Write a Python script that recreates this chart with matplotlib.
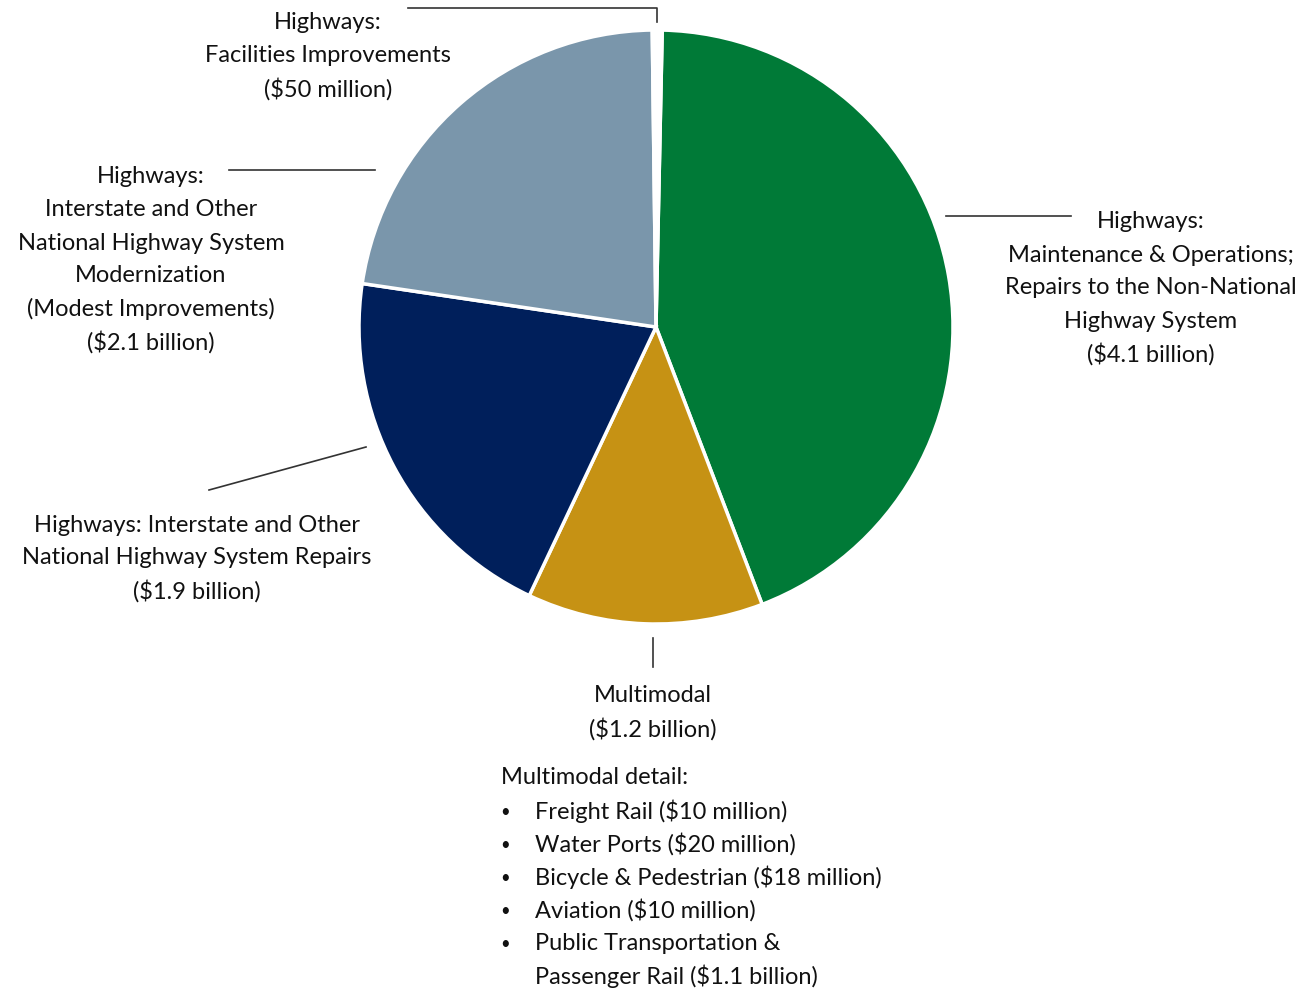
import matplotlib.pyplot as plt

# slice values in $ billions, clockwise from top
labels = ['Maintenance & Operations', 'Multimodal', 'NHS Repairs',
          'NHS Modernization', 'Facilities Improvements']
values = [4.1, 1.2, 1.9, 2.1, 0.05]
colors = ['#007a37', '#c69214', '#001f5b', '#7a96ab', '#ffffff']

detail_items = ['Freight Rail ($10 million)', 'Water Ports ($20 million)',
                'Bicycle & Pedestrian ($18 million)', 'Aviation ($10 million)',
                'Public Transportation &']
detail_last = 'Passenger Rail ($1.1 billion)'

W, H = 1303, 988
plt.rcParams['font.family'] = ['Lato', 'DejaVu Sans']

fig = plt.figure(figsize=(W / 100, H / 100), dpi=100)
ax = fig.add_axes([0, 0, 1, 1])
ax.set_xlim(0, W)
ax.set_ylim(0, H)
ax.axis('off')


def Y(y):
    return H - y


ax.pie(values, colors=colors, startangle=88.8, counterclock=False,
       center=(656, Y(327)), radius=297,
       wedgeprops=dict(edgecolor='white', linewidth=2.5))
ax.set_aspect('equal')
ax.set_xlim(0, W)
ax.set_ylim(0, H)

fs = 17
tc = '#111111'


def block(x, y0, lines, ha='center'):
    for i, s in enumerate(lines):
        ax.text(x, Y(y0 + 33 * i), s, ha=ha, va='center', fontsize=fs,
                color=tc)


def line(xs, ys):
    ax.plot(xs, [Y(v) for v in ys], color='#333333', lw=1.2)


block(328, 23, ['Highways:', 'Facilities Improvements', '($50 million)'])
line([408, 657, 657], [8, 8, 22])

block(151, 177, ['Highways:', 'Interstate and Other',
                 'National Highway System', 'Modernization',
                 '(Modest Improvements)', '($2.1 billion)'])
line([229, 375], [170, 170])

block(197, 525, ['Highways: Interstate and Other',
                 'National Highway System Repairs', '($1.9 billion)'])
line([209, 366], [490, 447])

block(653, 696, ['Multimodal', '($1.2 billion)'])
line([653, 653], [638, 667])

block(1151, 222, ['Highways:', 'Maintenance & Operations;',
                  'Repairs to the Non-National', 'Highway System',
                  '($4.1 billion)'])
line([946, 1071], [216, 216])

block(501, 778, ['Multimodal detail:'], ha='left')
for i, s in enumerate(detail_items):
    ax.text(505, Y(812 + 33 * i), '•', ha='center', va='center', fontsize=12, color=tc)
block(535, 811, detail_items + [detail_last], ha='left')

fig.savefig('out.png', dpi=100)
